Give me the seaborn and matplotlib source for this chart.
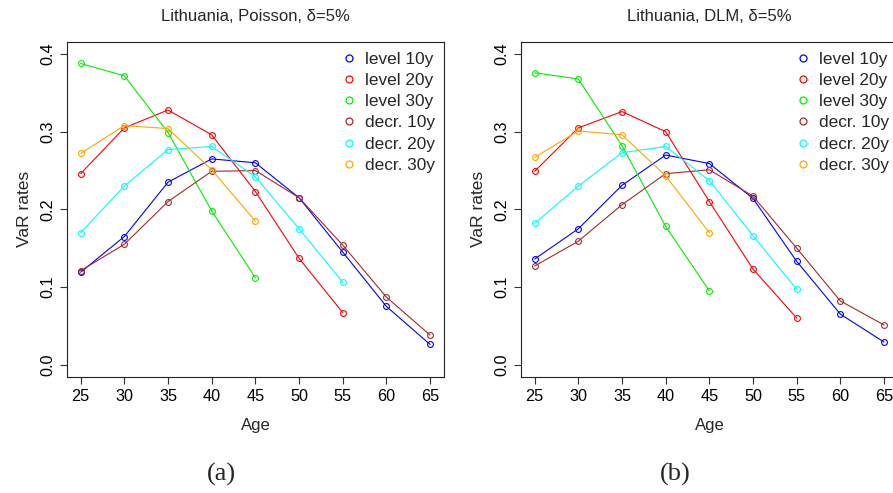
import matplotlib
matplotlib.use("Agg")
import matplotlib.pyplot as plt
from matplotlib.lines import Line2D
import seaborn as sns

# %% data
ages = [25, 30, 35, 40, 45, 50, 55, 60, 65]

labels = ["level 10y", "level 20y", "level 30y", "decr. 10y", "decr. 20y", "decr. 30y"]
colors = ["#0000ff", "#ff0000", "#00ee00", "#a52a2a", "#00ffff", "#ffa500"]

# (a) Poisson
pois_level10 = [0.119, 0.165, 0.235, 0.265, 0.260, 0.215, 0.145, 0.075, 0.026]
pois_level20 = [0.246, 0.305, 0.328, 0.296, 0.223, 0.137, 0.067]
pois_level30 = [0.388, 0.372, 0.299, 0.198, 0.112]
pois_decr10 = [0.121, 0.155, 0.210, 0.249, 0.250, 0.215, 0.154, 0.087, 0.038]
pois_decr20 = [0.170, 0.230, 0.277, 0.281, 0.242, 0.175, 0.106]
pois_decr30 = [0.272, 0.308, 0.304, 0.251, 0.185]

# (b) DLM
dlm_level10 = [0.136, 0.175, 0.231, 0.270, 0.259, 0.214, 0.133, 0.065, 0.029]
dlm_level20 = [0.249, 0.305, 0.326, 0.300, 0.210, 0.123, 0.060]
dlm_level30 = [0.376, 0.368, 0.282, 0.178, 0.095]
dlm_decr10 = [0.127, 0.159, 0.206, 0.246, 0.251, 0.217, 0.150, 0.082, 0.051]
dlm_decr20 = [0.182, 0.230, 0.273, 0.281, 0.237, 0.166, 0.097]
dlm_decr30 = [0.267, 0.301, 0.296, 0.243, 0.170]

panels = [
    ("Lithuania, Poisson, \u03b4=5%", "(a)",
     [pois_level10, pois_level20, pois_level30, pois_decr10, pois_decr20, pois_decr30]),
    ("Lithuania, DLM, \u03b4=5%", "(b)",
     [dlm_level10, dlm_level20, dlm_level30, dlm_decr10, dlm_decr20, dlm_decr30]),
]

# %% style
sns.set_style("ticks")
plt.rcParams["font.family"] = ["Liberation Sans", "DejaVu Sans"]

fig = plt.figure(figsize=(8.93, 4.93), dpi=100)
ax_w, ax_h = 0.4225, 0.6801
lefts = [0.0747, 0.5831]
tag_x = [0.2475, 0.7564]
bottom = 0.2353

for (title, tag, series), left, tx in zip(panels, lefts, tag_x):
    ax = fig.add_axes([left, bottom, ax_w, ax_h])
    for vals, col, lab in zip(series, colors, labels):
        sns.lineplot(x=ages[:len(vals)], y=vals, color=col, marker="o",
                     markersize=4.2, mfc="none", mec=col, mew=0.8,
                     linewidth=0.8, ax=ax, label=lab, legend=False)
    ax.set_xlim(23.4, 66.6)
    ax.set_ylim(-0.016, 0.416)
    ax.set_xticks(ages)
    ax.set_yticks([0.0, 0.1, 0.2, 0.3, 0.4])
    ax.set_yticklabels(["0.0", "0.1", "0.2", "0.3", "0.4"], rotation=90, va="center")
    ax.tick_params(direction="out", length=5, width=0.8, labelsize=11.7,
                   color="#333333", labelcolor="black")
    for sp in ax.spines.values():
        sp.set_linewidth(0.8)
        sp.set_color("#222222")
    ax.set_xlabel("Age", fontsize=12, labelpad=10)
    ax.set_ylabel("VaR rates", fontsize=12.5, labelpad=6)
    ax.set_title(title, fontsize=12, pad=15)

    handles = [Line2D([], [], ls="none", marker="o", markersize=5, mfc="none",
                      mec=c, mew=0.9) for c in colors]
    ax.legend(handles, labels, loc="upper left", bbox_to_anchor=(0.7254, 0.9708),
              frameon=False, fontsize=12.4, handlelength=1.0, handletextpad=0.43,
              labelspacing=0.36, borderpad=0, borderaxespad=0)

    fig.text(tx, 0.0385, tag, family="Liberation Serif", fontsize=19,
             ha="center", va="center")

fig.savefig("out.png", dpi=100)
